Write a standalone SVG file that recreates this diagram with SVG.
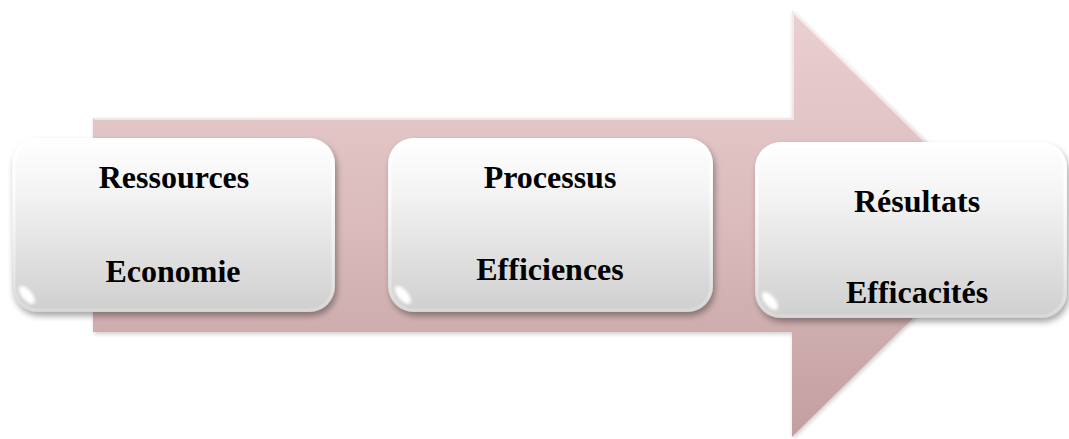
<svg xmlns="http://www.w3.org/2000/svg" width="1069" height="439" viewBox="0 0 1069 439">
  <defs>
    <linearGradient id="arrowFill" x1="0" y1="0" x2="0" y2="1">
      <stop offset="0" stop-color="#ead0d1"/>
      <stop offset="0.5" stop-color="#dbbbbc"/>
      <stop offset="1" stop-color="#c29fa1"/>
    </linearGradient>
    <linearGradient id="boxFill" x1="0" y1="0" x2="0" y2="1">
      <stop offset="0" stop-color="#ffffff"/>
      <stop offset="0.3" stop-color="#f4f4f4"/>
      <stop offset="1" stop-color="#cfcfcf"/>
    </linearGradient>
    <linearGradient id="edgeShine" x1="0" y1="0" x2="0" y2="1">
      <stop offset="0" stop-color="#ffffff" stop-opacity="0.9"/>
      <stop offset="1" stop-color="#ffffff" stop-opacity="0.2"/>
    </linearGradient>
    <filter id="shadow" x="-10%" y="-10%" width="125%" height="130%">
      <feGaussianBlur in="SourceAlpha" stdDeviation="3"/>
      <feOffset dx="2" dy="4" result="b"/>
      <feComponentTransfer><feFuncA type="linear" slope="0.35"/></feComponentTransfer>
      <feMerge><feMergeNode/><feMergeNode in="SourceGraphic"/></feMerge>
    </filter>
    <filter id="soft" x="-20%" y="-20%" width="140%" height="140%">
      <feGaussianBlur stdDeviation="1.5"/>
    </filter>
    <filter id="arrowShade" x="-5%" y="-5%" width="110%" height="110%">
      <feGaussianBlur in="SourceAlpha" stdDeviation="2"/>
      <feOffset dx="1" dy="2"/>
      <feComponentTransfer><feFuncA type="linear" slope="0.2"/></feComponentTransfer>
      <feMerge><feMergeNode/><feMergeNode in="SourceGraphic"/></feMerge>
    </filter>
  </defs>
  <style>
    .box { fill: url(#boxFill); filter: url(#shadow); }
    .rim { fill: none; stroke: url(#edgeShine); stroke-width: 3; }
    .glint { fill: #ffffff; opacity: 1; filter: url(#soft); }
    .label { font-family: "Liberation Serif", "Times New Roman", serif; font-weight: bold; font-size: 32px; fill: #000000; text-anchor: middle; }
  </style>

  <!-- Background block arrow -->
  <g id="connectors">
    <path d="M93 118 H792 V10 L1010 223 L792 437 V332 H93 Z" fill="url(#arrowFill)" filter="url(#arrowShade)"/>
    <path d="M94 119 H793 V12 L1008 223" fill="none" stroke="#ffffff" stroke-opacity="0.55" stroke-width="2"/>
  </g>

  <!-- Step 1 -->
  <g id="node-ressources">
    <rect class="box" x="12" y="138" width="323" height="174" rx="26"/>
    <rect class="rim" x="14" y="140" width="319" height="170" rx="24"/>
    <ellipse class="glint" cx="27" cy="295" rx="5" ry="11" transform="rotate(-40 27 295)"/>
    <text class="label" x="174" y="188">Ressources</text>
    <text class="label" x="173" y="282">Economie</text>
  </g>

  <!-- Step 2 -->
  <g id="node-processus">
    <rect class="box" x="388" y="138" width="325" height="174" rx="26"/>
    <rect class="rim" x="390" y="140" width="321" height="170" rx="24"/>
    <ellipse class="glint" cx="403" cy="295" rx="5" ry="11" transform="rotate(-40 403 295)"/>
    <text class="label" x="550" y="188">Processus</text>
    <text class="label" x="550" y="280">Efficiences</text>
  </g>

  <!-- Step 3 -->
  <g id="node-resultats">
    <rect class="box" x="755" y="142" width="312" height="176" rx="26"/>
    <rect class="rim" x="757" y="144" width="308" height="172" rx="24"/>
    <ellipse class="glint" cx="770" cy="301" rx="5" ry="11" transform="rotate(-40 770 301)"/>
    <text class="label" x="917" y="212">Résultats</text>
    <text class="label" x="917" y="303">Efficacités</text>
  </g>
</svg>
